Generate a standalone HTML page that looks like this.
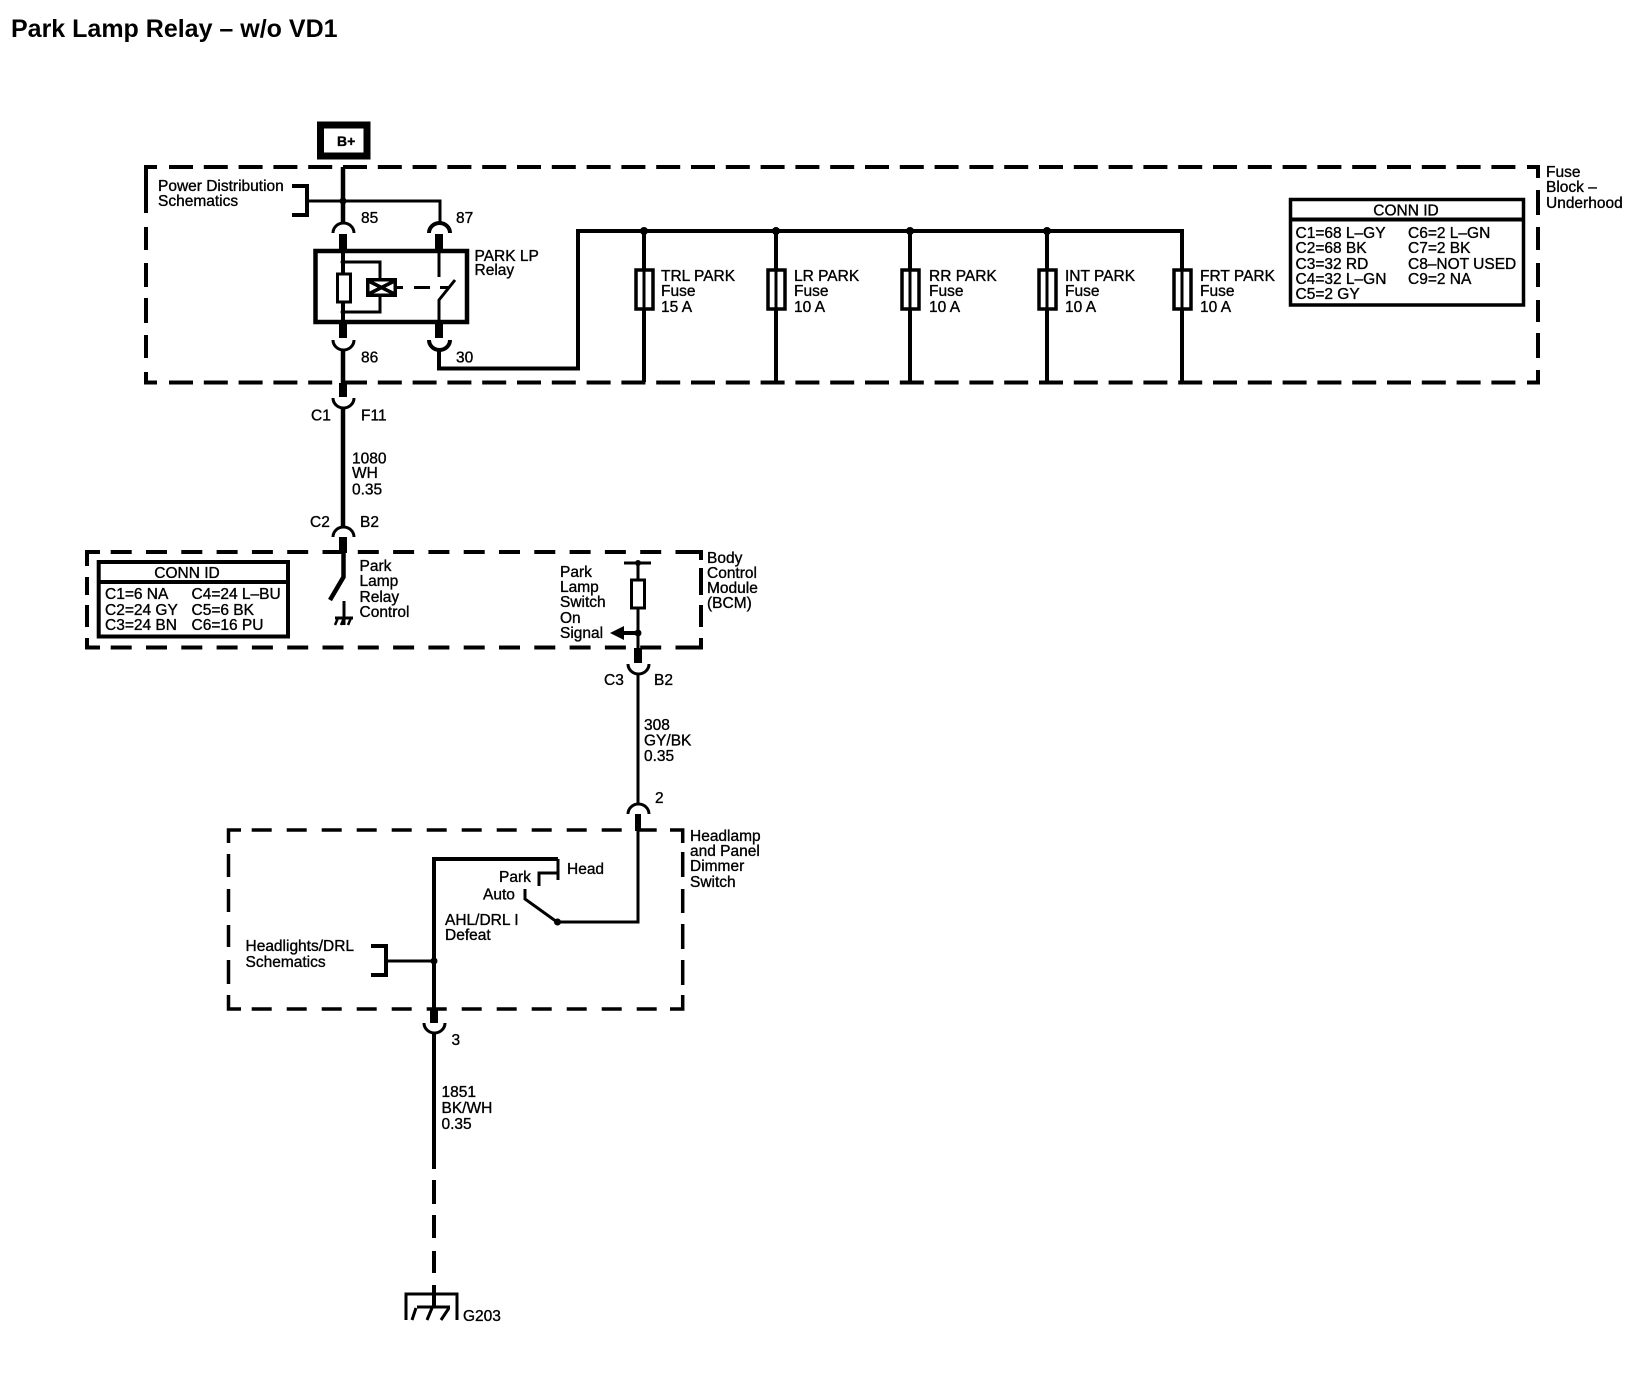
<!DOCTYPE html>
<html><head><meta charset="utf-8"><style>
html,body{margin:0;padding:0;background:#fff}
svg{display:block}
text{font-family:"Liberation Sans",sans-serif;font-size:15.5px;fill:#000;stroke:#000;stroke-width:.35px}
.t{font-size:25px;font-weight:bold;stroke-width:0}
.w{fill:none;stroke:#000;stroke-width:4}
.a{fill:none;stroke:#000;stroke-width:3}
.k{fill:none;stroke:#000;stroke-width:8}
.b{fill:none;stroke:#000;stroke-width:4}
.d1{fill:none;stroke:#000;stroke-width:4;stroke-dasharray:24 10.8}
.d2{fill:none;stroke:#000;stroke-width:4;stroke-dasharray:21 14.3}
.d3{fill:none;stroke:#000;stroke-width:3.5;stroke-dasharray:20 15}
</style></head><body>
<svg width="1632" height="1376" viewBox="0 0 1632 1376" xmlns="http://www.w3.org/2000/svg">
<rect width="1632" height="1376" fill="#fff"/>
<text x="11" y="37" class="t">Park Lamp Relay – w/o VD1</text>

<!-- B+ -->
<rect x="320.500" y="125" width="46.500" height="31" fill="none" stroke="#000" stroke-width="7"/>
<text x="337" y="146" style="font-weight:bold;font-size:14px">B+</text>

<!-- Fuse block dashed -->
<path class="d1" d="M169 167H1516M169 382.500H1516"/>
<path class="w" d="M157 167H146V213M146 227V250M146 263V287M146 298V323M146 335V358M146 372V382.500H157"/>
<path class="w" d="M1527 167H1538V178M1538 190V215M1538 227V250M1538 263V287M1538 300V322M1538 333V358M1538 370V382.500H1527"/>
<text x="1546" y="177">Fuse</text><text x="1546" y="192">Block –</text><text x="1546" y="208">Underhood</text>

<!-- Power dist bracket -->
<text x="158" y="191">Power Distribution</text><text x="158" y="206">Schematics</text>
<path class="b" d="M292 186H307V215H292"/>
<path class="a" d="M307 201H440V223"/>
<circle cx="343" cy="201" r="3.500"/>

<!-- wire 85 -->
<path class="w" style="stroke-width:4.500" d="M343 167V223"/>
<path class="a" d="M333 233A10.500 10 0 0 1 354 233"/>
<path class="k" d="M343 234V250"/>
<path class="a" style="stroke-width:4" d="M429 233A10.500 10 0 0 1 450 233"/>
<path class="k" d="M439 234V250"/>
<text x="361" y="223">85</text><text x="456" y="223">87</text>

<!-- Relay -->
<rect x="315.500" y="251" width="151.500" height="71" fill="none" stroke="#000" stroke-width="4.500"/>
<text x="474.500" y="261">PARK LP</text><text x="474.500" y="275">Relay</text>
<path class="w" d="M343 250V273M343 302V323"/>
<rect x="337.500" y="274" width="13" height="28" fill="#fff" stroke="#000" stroke-width="3"/>
<path class="a" d="M343 262H380V279M380 296V312H343"/>
<circle cx="343" cy="262" r="2.500"/><circle cx="343" cy="312" r="2.500"/>
<rect x="366" y="278" width="31" height="19" fill="#000"/>
<rect x="369.500" y="281.500" width="24" height="12" fill="#fff"/>
<path d="M369.500 281.500L393.500 293.500M369.500 293.500L393.500 281.500" fill="none" stroke="#000" stroke-width="3.500"/>
<path d="M397 287.500H403M414 287.500H430M440 287.500H448" class="a"/>
<path class="a" d="M439 250V277M439 323V300L455 280"/>

<path class="k" d="M343 323V338M439 323V338"/>
<path class="a" d="M333 340A10.500 10 0 0 0 354 340"/>
<path class="a" style="stroke-width:4" d="M429 340A10.500 10 0 0 0 450 340"/>
<text x="361" y="362.500">86</text><text x="456" y="362.500">30</text>
<path class="w" style="stroke-width:4.500" d="M343 350V397"/>
<path class="w" d="M439 350V368.500H578V231H1182V382"/>
<path class="k" d="M343 383V397"/>
<path class="a" d="M333 398A10.500 10 0 0 0 354 398"/>
<text x="311" y="420.500">C1</text><text x="361" y="420.500">F11</text>
<path class="w" style="stroke-width:4.500" d="M343 408V528"/>
<text x="352" y="463.500">1080</text><text x="352" y="478">WH</text><text x="352" y="494.500">0.35</text>
<text x="310" y="527">C2</text><text x="360" y="527">B2</text>
<path class="a" d="M333 537A10.500 10 0 0 1 354 537"/>
<path class="k" d="M343 537V553"/>

<!-- Fuses -->
<g>
<path class="w" d="M644 231V382M776 231V382M910 231V382M1047 231V382M1182 231V382"/>
<circle cx="644" cy="231" r="4"/><circle cx="776" cy="231" r="4"/><circle cx="910" cy="231" r="4"/><circle cx="1047" cy="231" r="4"/>
<g fill="#fff" stroke="#000" stroke-width="3.500">
<rect x="636" y="270" width="17" height="39"/><rect x="768" y="270" width="17" height="39"/><rect x="902" y="270" width="17" height="39"/><rect x="1039" y="270" width="17" height="39"/><rect x="1174" y="270" width="17" height="39"/>
</g>
<path class="a" d="M644 270V309M776 270V309M910 270V309M1047 270V309M1182 270V309"/>
</g>
<text x="661" y="281">TRL PARK</text><text x="661" y="296">Fuse</text><text x="661" y="312">15 A</text>
<text x="794" y="281">LR PARK</text><text x="794" y="296">Fuse</text><text x="794" y="312">10 A</text>
<text x="929" y="281">RR PARK</text><text x="929" y="296">Fuse</text><text x="929" y="312">10 A</text>
<text x="1065" y="281">INT PARK</text><text x="1065" y="296">Fuse</text><text x="1065" y="312">10 A</text>
<text x="1200" y="281">FRT PARK</text><text x="1200" y="296">Fuse</text><text x="1200" y="312">10 A</text>

<!-- Conn ID top -->
<rect x="1290.500" y="199.500" width="233" height="105.500" fill="#fff" stroke="#000" stroke-width="3.500"/>
<path class="w" d="M1291 219.500H1523"/>
<text x="1406" y="215.500" text-anchor="middle">CONN ID</text>
<text x="1295.500" y="238">C1=68 L–GY</text><text x="1295.500" y="253">C2=68 BK</text><text x="1295.500" y="269">C3=32 RD</text><text x="1295.500" y="284">C4=32 L–GN</text><text x="1295.500" y="299">C5=2 GY</text>
<text x="1408" y="238">C6=2 L–GN</text><text x="1408" y="253">C7=2 BK</text><text x="1408" y="269">C8–NOT USED</text><text x="1408" y="284">C9=2 NA</text>

<!-- BCM -->
<path class="d2" d="M110.700 552H690M110.700 647.500H690"/>
<path class="w" d="M100 552H87V566M87 577V595M87 605V627M87 638V647.500H100"/>
<path class="w" d="M690 552H701V560M701 568V595M701 605V627M701 638V647.500H690"/>
<text x="707" y="563">Body</text><text x="707" y="578">Control</text><text x="707" y="593">Module</text><text x="707" y="608">(BCM)</text>
<rect x="98.700" y="562" width="189.300" height="74.500" fill="#fff" stroke="#000" stroke-width="4"/>
<path class="w" d="M99 582H288"/>
<text x="187" y="578" text-anchor="middle">CONN ID</text>
<text x="105" y="599">C1=6 NA</text><text x="105" y="615">C2=24 GY</text><text x="105" y="630">C3=24 BN</text>
<text x="191.500" y="599">C4=24 L–BU</text><text x="191.500" y="615">C5=6 BK</text><text x="191.500" y="630">C6=16 PU</text>

<path class="w" style="stroke-width:4.500" d="M343.500 553V577L330 600"/>
<path class="a" d="M344 601V625M335 618H353"/>
<path d="M338 618L335 625M344 618L341 625M351 618L348 625" class="a" style="stroke-width:2.500"/>
<text x="359.500" y="571">Park</text><text x="359.500" y="586">Lamp</text><text x="359.500" y="602">Relay</text><text x="359.500" y="617">Control</text>

<text x="560" y="577">Park</text><text x="560" y="592">Lamp</text><text x="560" y="607">Switch</text><text x="560" y="623">On</text><text x="560" y="638">Signal</text>
<path class="a" d="M624 563H651"/>
<circle cx="638" cy="563" r="3"/>
<path class="a" d="M638 563V662"/>
<rect x="631.500" y="580" width="13" height="28" fill="#fff" stroke="#000" stroke-width="3"/>
<circle cx="638" cy="633" r="3.500"/>
<path class="w" d="M620 633H638"/>
<path d="M610 633L624 626V640Z"/>
<path class="k" d="M638 648V663"/>
<path class="a" d="M628 664A10.500 10 0 0 0 649 664"/>
<text x="604" y="685">C3</text><text x="654" y="685">B2</text>
<path class="a" d="M638 674V804"/>
<text x="644" y="730">308</text><text x="644" y="745.500">GY/BK</text><text x="644" y="761">0.35</text>
<text x="655" y="803">2</text>
<path class="a" d="M628 814A10.500 10 0 0 1 649 814"/>
<path class="k" style="stroke-width:6" d="M638 814V831"/>

<!-- Headlamp -->
<path class="d3" d="M251.700 830H670M251.700 1009H670"/>
<path class="b" style="stroke-width:3.500" d="M241 830H228.500V843M228.500 854V877M228.500 889V912M228.500 925V947M228.500 960V984M228.500 995V1009H241"/>
<path class="b" style="stroke-width:3.500" d="M670 830H682.700V843M682.700 852V877M682.700 889V913M682.700 924V949M682.700 960V985M682.700 995V1009H670"/>
<text x="690" y="841">Headlamp</text><text x="690" y="856">and Panel</text><text x="690" y="871">Dimmer</text><text x="690" y="887">Switch</text>
<path class="a" d="M638 830V922H557L525 899V889"/>
<circle cx="557.500" cy="922" r="3.500"/>
<path class="a" d="M558 859V880M558 873H539V886"/>
<path class="w" d="M434 1009V859H558"/>
<text x="567" y="874">Head</text><text x="499" y="882">Park</text><text x="483" y="899.500">Auto</text>
<text x="445" y="925">AHL/DRL I</text><text x="445" y="940">Defeat</text>
<text x="245.500" y="951">Headlights/DRL</text><text x="245.500" y="967">Schematics</text>
<path class="b" d="M371 946H386V975H371"/>
<path class="a" d="M386 961H434"/>
<circle cx="434" cy="961" r="3.500"/>
<path class="k" d="M434 1009V1023"/>
<path class="a" d="M424 1023A10.500 10 0 0 0 445 1023"/>
<text x="451.500" y="1045">3</text>
<path class="w" d="M434 1033V1169M434 1180V1204M434 1215V1238M434 1251V1273M434 1285V1307"/>
<text x="441.500" y="1097">1851</text><text x="441.500" y="1113">BK/WH</text><text x="441.500" y="1129">0.35</text>
<path class="a" d="M406 1320V1294H457V1320"/>
<path class="a" d="M417 1307H450M416 1308L412 1320M432 1308L427 1320M449 1308L441 1320"/>
<text x="463" y="1321">G203</text>
</svg>
</body></html>
